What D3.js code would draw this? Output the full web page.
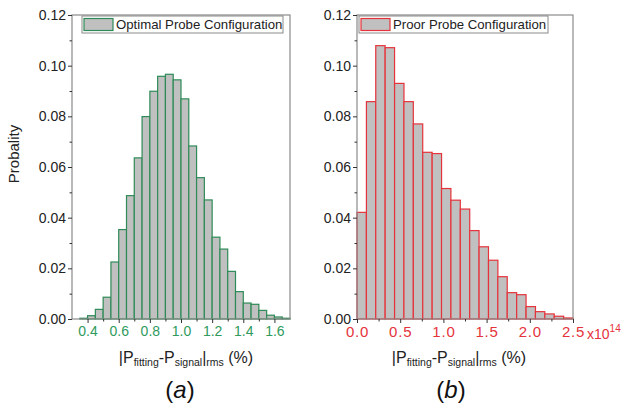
<!DOCTYPE html>
<html lang="en">
<head>
<meta charset="UTF-8">
<script src="https://d3js.org/d3.v7.min.js"></script>
<style>
    body { margin: 0; background: #fff; font-family: Arial, "Liberation Sans", sans-serif; }
    svg text { font-family: Arial, "Liberation Sans", sans-serif; }
</style>
</head>
<body>
<svg id="chart" width="625" height="411"></svg>
<script>
    // Data
    const optimalX0 = [0.35, 0.40, 0.45, 0.50, 0.55, 0.60, 0.65, 0.70, 0.75, 0.80, 0.85, 0.90, 0.95, 1.00,
        1.05, 1.10, 1.15, 1.20, 1.25, 1.30, 1.35, 1.40, 1.45, 1.50, 1.55, 1.60, 1.65];
    const optimalProb = [0.0003, 0.0013, 0.0038, 0.0086, 0.0225, 0.0353, 0.0487, 0.0636, 0.0799, 0.0899,
        0.0958, 0.0966, 0.0944, 0.0869, 0.0683, 0.0558, 0.0470, 0.0323, 0.0276, 0.0188, 0.0108, 0.0063,
        0.0058, 0.0034, 0.0015, 0.0008, 0.0003];
    const optimalWidth = 0.05;

    const proorX0 = [0, 0.109, 0.217, 0.326, 0.435, 0.543, 0.652, 0.761, 0.870, 0.978, 1.087, 1.196,
        1.304, 1.413, 1.522, 1.630, 1.739, 1.848, 1.957, 2.065, 2.174, 2.283, 2.391];
    const proorProb = [0.0421, 0.0858, 0.1079, 0.1071, 0.0930, 0.0858, 0.0770, 0.0658, 0.0653, 0.0515,
        0.0469, 0.0434, 0.0349, 0.0285, 0.0232, 0.0167, 0.0104, 0.0096, 0.0049, 0.0029, 0.0020, 0.0011, 0.0004];
    const proorWidth = 0.1087;

    const yTicks = [0, 0.02, 0.04, 0.06, 0.08, 0.10, 0.12];
    const yMinor = [0.01, 0.03, 0.05, 0.07, 0.09, 0.11];
    const optimalTicks = [0.4, 0.6, 0.8, 1.0, 1.2, 1.4, 1.6];
    const optimalMinor = [0.5, 0.7, 0.9, 1.1, 1.3, 1.5];
    const proorTicks = [0, 0.5, 1.0, 1.5, 2.0, 2.5];
    const proorMinor = [0.25, 0.75, 1.25, 1.75, 2.25];

    const svg = d3.select("#chart");
    const plotTop = 15, plotBottom = 319;
    const frameColor = "#8a8a8a";

    function panel(opt) {
        const x = d3.scaleLinear().domain(opt.domain).range([opt.left, opt.right]);
        const y = d3.scaleLinear().domain([0, 0.12]).range([plotBottom, plotTop]);
        const g = svg.append("g");

        // bars
        g.selectAll("rect.bar")
            .data(opt.x0.map((d, i) => ({ x0: d, v: opt.prob[i] })))
            .enter().append("rect")
            .attr("class", "bar")
            .attr("x", d => x(d.x0))
            .attr("y", d => y(d.v))
            .attr("width", d => x(d.x0 + opt.width) - x(d.x0))
            .attr("height", d => y(0) - y(d.v))
            .attr("fill", "#c0c0c0")
            .attr("stroke", opt.color)
            .attr("stroke-width", 1.2);

        // frame
        g.append("rect")
            .attr("x", opt.left).attr("y", plotTop)
            .attr("width", opt.right - opt.left).attr("height", plotBottom - plotTop)
            .attr("fill", "none").attr("stroke", frameColor).attr("stroke-width", 1.2);

        // y axis
        const yAxis = g.append("g").attr("transform", `translate(${opt.left},0)`)
            .call(d3.axisLeft(y).tickValues(yTicks).tickFormat(d3.format(".2f")).tickSize(4).tickPadding(2));
        yAxis.select(".domain").remove();
        yAxis.selectAll("line").attr("stroke", "#333");
        yAxis.selectAll("text").attr("font-size", 14).attr("fill", "#222");
        g.append("g").attr("transform", `translate(${opt.left},0)`)
            .call(d3.axisLeft(y).tickValues(yMinor).tickFormat("").tickSize(2.5))
            .call(a => a.select(".domain").remove())
            .selectAll("line").attr("stroke", "#333");

        // x axis
        const xAxis = g.append("g").attr("transform", `translate(0,${plotBottom})`)
            .call(d3.axisBottom(x).tickValues(opt.ticks).tickFormat(opt.fmt).tickSize(4).tickPadding(3));
        xAxis.select(".domain").remove();
        xAxis.selectAll("line").attr("stroke", "#333");
        xAxis.selectAll("text").attr("font-size", opt.tickFont).attr("fill", opt.labelColor)
            .attr("letter-spacing", opt.spacing);
        g.append("g").attr("transform", `translate(0,${plotBottom})`)
            .call(d3.axisBottom(x).tickValues(opt.minor).tickFormat("").tickSize(2.5))
            .call(a => a.select(".domain").remove())
            .selectAll("line").attr("stroke", "#333");

        // legend
        g.append("rect")
            .attr("x", opt.legend[0]).attr("y", 16)
            .attr("width", opt.legend[1]).attr("height", 17)
            .attr("fill", "#fff").attr("stroke", frameColor).attr("stroke-width", 1);
        g.append("rect")
            .attr("x", opt.legend[0] + 2).attr("y", 18.5)
            .attr("width", 29).attr("height", 12)
            .attr("fill", "#c0c0c0").attr("stroke", opt.color).attr("stroke-width", 1.2);
        g.append("text")
            .attr("x", opt.legend[0] + 34).attr("y", 29)
            .attr("font-size", 13.2).attr("fill", "#222")
            .text(opt.name);

        // x title
        const title = g.append("text")
            .attr("x", opt.titleX).attr("y", 363)
            .attr("text-anchor", "middle")
            .attr("font-size", 16).attr("fill", "#222");
        title.append("tspan").text("|P");
        title.append("tspan").attr("font-size", 10.5).attr("dy", 3).text("fitting");
        title.append("tspan").attr("dy", -3).text("-P");
        title.append("tspan").attr("font-size", 10.5).attr("dy", 3).text("signal");
        title.append("tspan").attr("dy", -3).text("|");
        title.append("tspan").attr("font-size", 10.5).attr("dy", 3).text("rms");
        title.append("tspan").attr("dy", -3).text(" (%)");

        // panel letter
        const letter = g.append("text")
            .attr("x", opt.letterX).attr("y", 398)
            .attr("text-anchor", "middle")
            .attr("font-size", 24).attr("fill", "#111");
        letter.append("tspan").text("(");
        letter.append("tspan").attr("font-style", "italic").text(opt.letter);
        letter.append("tspan").text(")");
        return g;
    }

    panel({
        domain: [0.3, 1.7], left: 72, right: 290,
        x0: optimalX0, prob: optimalProb, width: optimalWidth,
        color: "#2e8b57", labelColor: "#2f9a5c",
        ticks: optimalTicks, minor: optimalMinor, fmt: d3.format(".1f"),
        tickFont: 14, spacing: 0,
        legend: [82, 201], name: "Optimal Probe Configuration",
        titleX: 186, letterX: 180, letter: "a"
    });

    const rightPanel = panel({
        domain: [0, 2.5], left: 357, right: 573,
        x0: proorX0, prob: proorProb, width: proorWidth,
        color: "#e5333b", labelColor: "#e5333b",
        ticks: proorTicks, minor: proorMinor, fmt: d3.format(".1f"),
        tickFont: 15, spacing: 0.8,
        legend: [359, 189], name: "Proor Probe Configuration",
        titleX: 459, letterX: 451, letter: "b"
    });

    // x10^14 multiplier on the right axis
    const mult = rightPanel.append("text")
        .attr("x", 587).attr("y", 339)
        .attr("font-size", 14).attr("fill", "#e5333b");
    mult.append("tspan").text("x10");
    mult.append("tspan").attr("font-size", 10).attr("dy", -7).text("14");

    // shared y title
    svg.append("text")
        .attr("transform", "translate(19,154) rotate(-90)")
        .attr("text-anchor", "middle")
        .attr("font-size", 15).attr("fill", "#222")
        .text("Probality");
</script>
</body>
</html>
